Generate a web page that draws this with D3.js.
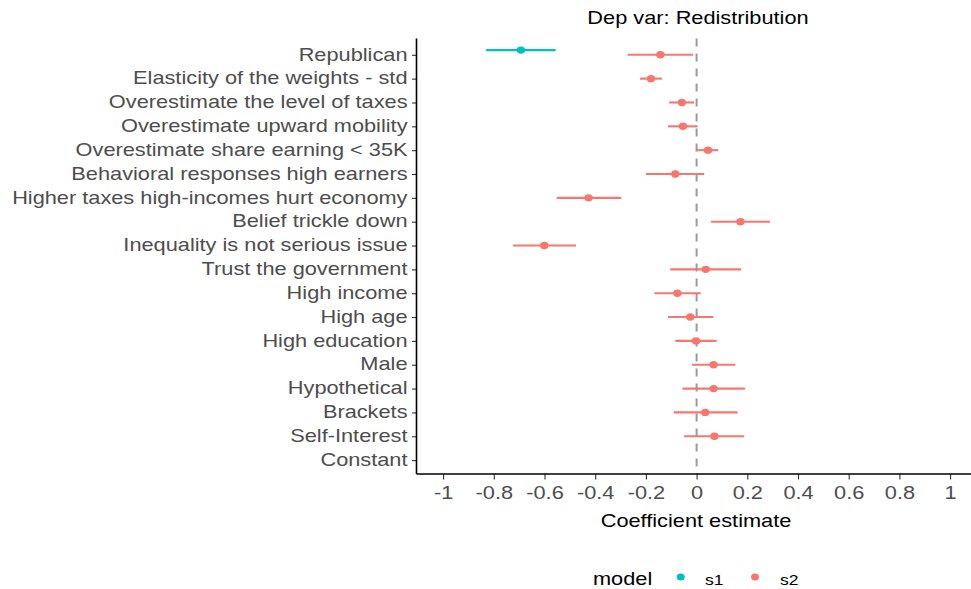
<!DOCTYPE html>
<html>
<head>
<meta charset="utf-8">
<script src="https://cdn.jsdelivr.net/npm/d3@7"></script>
<style>
  body { margin: 0; background: #fff; }
  svg { display: block; font-family: "Liberation Sans", Arial, sans-serif; }
</style>
</head>
<body>
<svg id="chart" width="971" height="589"></svg>
<script>
// ---- data ----
const categories = ["Republican", "Elasticity of the weights - std", "Overestimate the level of taxes",
  "Overestimate upward mobility", "Overestimate share earning < 35K", "Behavioral responses high earners",
  "Higher taxes high-incomes hurt economy", "Belief trickle down", "Inequality is not serious issue",
  "Trust the government", "High income", "High age", "High education", "Male", "Hypothetical",
  "Brackets", "Self-Interest", "Constant"];

// model s1 (only Republican)
const s1Terms = ["Republican"];
const s1Est = [-0.693];
const s1Lo = [-0.830];
const s1Hi = [-0.556];

// model s2
const s2Terms = ["Republican", "Elasticity of the weights - std", "Overestimate the level of taxes",
  "Overestimate upward mobility", "Overestimate share earning < 35K", "Behavioral responses high earners",
  "Higher taxes high-incomes hurt economy", "Belief trickle down", "Inequality is not serious issue",
  "Trust the government", "High income", "High age", "High education", "Male", "Hypothetical",
  "Brackets", "Self-Interest"];
const s2Est = [-0.143, -0.180, -0.058, -0.054, 0.045, -0.084, -0.426, 0.173, -0.601,
  0.036, -0.076, -0.025, -0.002, 0.067, 0.067, 0.034, 0.070];
const s2Lo = [-0.272, -0.223, -0.108, -0.113, 0.000, -0.200, -0.552, 0.057, -0.724,
  -0.104, -0.167, -0.113, -0.084, -0.018, -0.056, -0.090, -0.049];
const s2Hi = [-0.014, -0.137, -0.009, 0.004, 0.085, 0.030, -0.297, 0.290, -0.476,
  0.176, 0.016, 0.066, 0.079, 0.153, 0.191, 0.162, 0.188];

const xTicks = [-1, -0.8, -0.6, -0.4, -0.2, 0, 0.2, 0.4, 0.6, 0.8, 1];
const models = ["s1", "s2"];
const modelColors = ["#00BFC4", "#F8766D"];

// ---- layout ----
const SX = 1.17; // horizontal text stretch
const svg = d3.select("#chart");
const panel = { left: 416.5, right: 971, top: 38.5, bottom: 474 };

const x = d3.scaleLinear().domain([-1, 1]).range([443.1, 950.1]);
const y = d3.scalePoint().domain(categories).range([54.8, 460.1]);
const color = d3.scaleOrdinal().domain(models).range(modelColors);
const dodge = { s1: -4.7, s2: 0 };

// zero reference line
svg.append("line")
  .attr("x1", x(0)).attr("x2", x(0))
  .attr("y1", panel.top).attr("y2", panel.bottom)
  .attr("stroke", "#999999").attr("stroke-width", 2)
  .attr("stroke-dasharray", "8,7");

function drawModel(name, terms, est, lo, hi) {
  const rows = terms.map((t, i) => ({ t, e: est[i], l: lo[i], h: hi[i] }));
  const g = svg.append("g");
  g.selectAll("line").data(rows).join("line")
    .attr("x1", d => x(d.l)).attr("x2", d => x(d.h))
    .attr("y1", d => y(d.t) + dodge[name]).attr("y2", d => y(d.t) + dodge[name])
    .attr("stroke", color(name)).attr("stroke-width", 2.1);
  g.selectAll("ellipse").data(rows).join("ellipse")
    .attr("cx", d => x(d.e)).attr("cy", d => y(d.t) + dodge[name])
    .attr("rx", 4.2).attr("ry", 3.7)
    .attr("fill", color(name));
}
drawModel("s2", s2Terms, s2Est, s2Lo, s2Hi);
drawModel("s1", s1Terms, s1Est, s1Lo, s1Hi);

// axes
const xAxis = svg.append("g").attr("transform", `translate(0,${panel.bottom})`)
  .call(d3.axisBottom(x).tickValues(xTicks).tickSize(5.5).tickFormat(d => String(d)));
xAxis.select(".domain").remove();
xAxis.selectAll(".tick line").attr("stroke", "#333333").attr("stroke-width", 1.1);
xAxis.selectAll(".tick text")
  .attr("y", 25).attr("dy", 0)
  .attr("fill", "#4D4D4D").attr("font-size", 18.6)
  .attr("font-family", "Liberation Sans, Arial, sans-serif")
  .attr("transform", `scale(${SX},1)`);

const yAxis = svg.append("g").attr("transform", `translate(${panel.left},0)`)
  .call(d3.axisLeft(y).tickSize(4.5));
yAxis.select(".domain").remove();
yAxis.selectAll(".tick line").attr("stroke", "#333333").attr("stroke-width", 1.1);
yAxis.selectAll(".tick text")
  .attr("x", -9 / SX).attr("dy", "0.28em")
  .attr("fill", "#4D4D4D").attr("font-size", 18.6)
  .attr("font-family", "Liberation Sans, Arial, sans-serif")
  .attr("transform", `scale(${SX},1)`);

// axis lines
svg.append("line").attr("x1", panel.left).attr("x2", panel.right)
  .attr("y1", panel.bottom).attr("y2", panel.bottom)
  .attr("stroke", "#000").attr("stroke-width", 1.6);
svg.append("line").attr("x1", panel.left).attr("x2", panel.left)
  .attr("y1", panel.top).attr("y2", panel.bottom)
  .attr("stroke", "#000").attr("stroke-width", 1.6);

function stretchedText(txt, px, py, size, anchor, fill) {
  svg.append("g").attr("transform", `translate(${px},${py}) scale(${SX},1)`)
    .append("text").attr("text-anchor", anchor)
    .attr("font-size", size).attr("fill", fill).text(txt);
}
// title and axis title
stretchedText("Dep var: Redistribution", 698, 23.5, 18.6, "middle", "#000");
stretchedText("Coefficient estimate", 696, 527, 18.6, "middle", "#000");

// legend
stretchedText("model", 593, 585, 18.6, "start", "#000");
const legendItems = [{ m: "s1", cx: 680.7, tx: 705 }, { m: "s2", cx: 755, tx: 780 }];
legendItems.forEach(it => {
  svg.append("ellipse").attr("cx", it.cx).attr("cy", 577)
    .attr("rx", 4.0).attr("ry", 3.6).attr("fill", color(it.m));
  stretchedText(it.m, it.tx, 585, 15, "start", "#000");
});
</script>
</body>
</html>
